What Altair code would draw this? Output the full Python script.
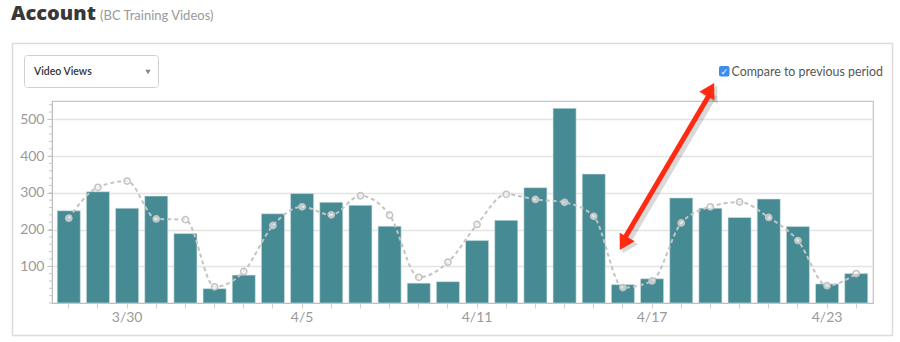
import altair as alt
import pandas as pd

# ---- data ----
dates = ['3/28', '3/29', '3/30', '3/31', '4/1', '4/2', '4/3', '4/4', '4/5', '4/6',
         '4/7', '4/8', '4/9', '4/10', '4/11', '4/12', '4/13', '4/14', '4/15', '4/16',
         '4/17', '4/18', '4/19', '4/20', '4/21', '4/22', '4/23', '4/24']
views = [251, 303, 258, 291, 189, 39, 76, 243, 298, 274, 266, 209, 54, 58, 170,
         225, 314, 530, 351, 50, 66, 286, 258, 233, 283, 208, 52, 80]
previous = [231, 315, 332, 229, 227, 44, 86, 211, 262, 240, 292, 239, 70, 111, 214,
            296, 282, 274, 236, 42, 60, 218, 262, 275, 233, 170, 47, 80]
x_labels = ['3/30', '4/5', '4/11', '4/17', '4/23']
y_labels = [100, 200, 300, 400, 500]
minor_ticks = list(range(0, 560, 20))

title_main = 'Account'
title_sub = '(BC Training Videos)'
dropdown_text = 'Video Views'
checkbox_text = 'Compare to previous period'

df = pd.DataFrame({'date': dates, 'views': views, 'previous': previous})
minor_df = pd.DataFrame({'value': minor_ticks})

# ---- layout ----
W, H = 821, 202
OX, OY = 52, 101  # plot origin in page pixels
FONT = 'Lato'
LABEL = '#9a9a9a'
BAR = '#468a93'
PREV = '#c4c4c4'


def px(x):
    return x - OX


def py(y):
    return y - OY


y_scale = alt.Scale(domain=[0, 550], nice=False, zero=True)
y_axis = alt.Axis(values=y_labels, title=None, grid=True, gridColor='#e4e4e4', gridWidth=1.5,
                  domainColor='#bdbdbd', tickColor='#bdbdbd', tickSize=5, labelPadding=3,
                  labelColor=LABEL, labelFont=FONT, labelFontSize=14)
label_expr = "indexof(" + str(x_labels) + ", datum.value) >= 0 ? datum.value : ''"
x_enc = alt.X('date:N', sort=None, title=None,
              scale=alt.Scale(paddingInner=0.21, paddingOuter=0.18),
              axis=alt.Axis(labelAngle=0, labelExpr=label_expr, labelColor=LABEL, labelFont=FONT,
                            labelFontSize=14, domainColor='#bdbdbd', tickColor='#d0d0d0',
                            tickSize=5, labelPadding=2, grid=False))

base = alt.Chart(df)
bars = base.mark_bar(color=BAR, stroke='#cfe0e2', strokeWidth=0.6).encode(
    x=x_enc, y=alt.Y('views:Q', scale=y_scale, axis=y_axis))
line = base.mark_line(color=PREV, strokeWidth=2, strokeDash=[4, 3], interpolate='monotone').encode(
    x=x_enc, y=alt.Y('previous:Q', scale=y_scale, axis=y_axis))
pts = base.mark_circle(size=38, fill='white', fillOpacity=0.6, stroke=PREV, strokeWidth=1.6, opacity=1).encode(
    x=x_enc, y=alt.Y('previous:Q', scale=y_scale, axis=y_axis))
minor = alt.Chart(minor_df).mark_rule(color='#c8c8c8', strokeWidth=1).encode(
    x=alt.value(-3), x2=alt.value(0), y=alt.Y('value:Q', scale=y_scale, axis=y_axis))

one = pd.DataFrame({'k': [0]})


def rect(x1, y1, x2, y2, **kw):
    return alt.Chart(one).mark_rect(**kw).encode(
        x=alt.value(px(x1)), x2=alt.value(px(x2)), y=alt.value(py(y1)), y2=alt.value(py(y2)))


def text(x, y, t, **kw):
    return alt.Chart(one).mark_text(text=t, **kw).encode(x=alt.value(px(x)), y=alt.value(py(y)))


def rule(x1, y1, x2, y2, **kw):
    return alt.Chart(one).mark_rule(**kw).encode(
        x=alt.value(px(x1)), x2=alt.value(px(x2)), y=alt.value(py(y1)), y2=alt.value(py(y2)))


def tri(x, y, angle, **kw):
    return alt.Chart(one).mark_point(shape='triangle-up', filled=True, angle=angle, **kw).encode(
        x=alt.value(px(x)), y=alt.value(py(y)))


panel = rect(12.5, 43.5, 892.5, 335.5, fill='white', fillOpacity=0, stroke='#dcdcdc', strokeWidth=1.5)
t1 = text(11, 19.5, title_main, font='Open Sans', fontSize=20, fontWeight=800, color='#383838',
          align='left', baseline='alphabetic')
t2 = text(100, 19.5, title_sub, font=FONT, fontSize=13, color='#999999', align='left', baseline='alphabetic')
dd = rect(24.5, 55.5, 158.5, 87.5, fill='white', stroke='#d0d0d0', strokeWidth=1, cornerRadius=3)
dd_t = text(34, 72, dropdown_text, font=FONT, fontSize=10.5, fontWeight=600, color='#333333',
            align='left', baseline='middle')
dd_a = tri(148, 72, 180, size=28, color='#555555')
cb = rect(719, 66, 729.5, 76.5, fill='#3b8ef0', cornerRadius=2)
cb_t = text(724.2, 71.8, '✓', font='DejaVu Sans', fontSize=9, fontWeight='bold', color='white',
            align='center', baseline='middle')
cb_l = text(731.5, 71.5, checkbox_text, font=FONT, fontSize=12.4, color='#555555',
            align='left', baseline='middle')

# double-headed red arrow with soft shadow
ang = 29.5
shadow = rule(711 + 3, 92 + 3, 623 + 3, 241 + 3, color='black', opacity=0.15, strokeWidth=7)
sh1 = tri(710.5 + 3, 89.5 + 3, ang, size=330, color='black', opacity=0.15)
sh2 = tri(623.5 + 3, 243.5 + 3, 180 + ang, size=330, color='black', opacity=0.15)
arrow = rule(711, 92, 623, 241, color='#ff2a12', strokeWidth=5)
h1 = tri(710.5, 89.5, ang, size=300, color='#ff2a12', opacity=1)
h2 = tri(623.5, 243.5, 180 + ang, size=300, color='#ff2a12', opacity=1)

chart = alt.layer(
    panel, minor, bars, line, pts,
    t1, t2, dd, dd_t, dd_a, cb, cb_t, cb_l,
    shadow, sh1, sh2, arrow, h1, h2
).properties(
    width=W, height=H,
    autosize=alt.AutoSizeParams(type='none'),
    padding={'left': OX, 'top': OY, 'right': 900 - OX - W, 'bottom': 342 - OY - H},
    background='white'
).configure_view(stroke='#c4c4c4', strokeWidth=1.2)

chart.save('out.html', embed_options={'renderer': 'svg', 'actions': False})
